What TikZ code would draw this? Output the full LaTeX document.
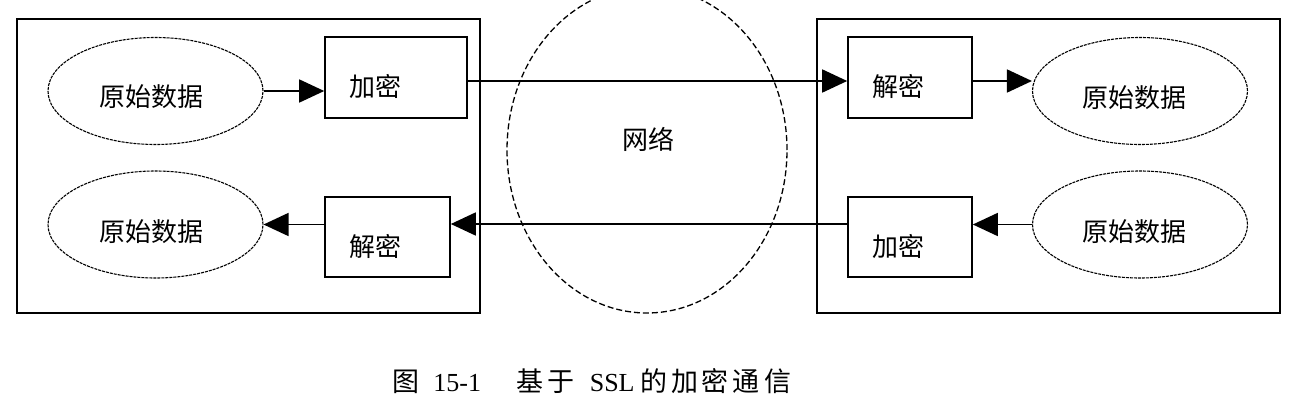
\documentclass[tikz,border=0pt]{standalone}
\usepackage{fontspec}
\setmainfont{Noto Sans CJK SC}
\newfontfamily\caplatin{Liberation Serif}
\usetikzlibrary{arrows.meta,calc,shapes.geometric}
\begin{document}
\begin{tikzpicture}[x=1pt,y=-1pt,
  outerbox/.style={draw, line width=1.8pt},
  procbox/.style={draw, line width=1.6pt, rectangle, inner sep=0pt},
  dataell/.style={draw, ellipse, line width=1.1pt, dash pattern=on 3pt off 1pt, inner sep=0pt, minimum width=215pt, minimum height=107pt},
  netell/.style={draw, ellipse, line width=1.3pt, dash pattern=on 6pt off 3pt, inner sep=0pt, minimum width=280pt, minimum height=326pt},
  lbl/.style={inner sep=0pt, font=\fontsize{26pt}{30pt}\selectfont},
  arr/.style={line width=1.6pt, -{Triangle[length=25pt,width=23pt]}}
]
\fill[white] (0,0) rectangle (1301,404);
\useasboundingbox (0,0) rectangle (1301,404);

% outer boxes
\draw[outerbox] (17,19) rectangle (480,313);
\draw[outerbox] (817,19) rectangle (1280,313);

% network
\node[netell] (net) at (647,150) {};
\node[lbl] (nett) at (648,139) {网络};

% left side
\node[dataell] (lt) at (155.5,91) {};
\node[lbl] (ltt) at (151,97) {原始数据};
\node[dataell] (lb) at (155.5,224.5) {};
\node[lbl] (lbt) at (151,232) {原始数据};
\node[procbox, minimum width=142pt, minimum height=81pt] (lenc) at (396,77.5) {};
\node[lbl] (lenct) at (375,87) {加密};
\node[procbox, minimum width=125pt, minimum height=80pt] (ldec) at (387.5,237) {};
\node[lbl] (ldect) at (375,247) {解密};

% right side
\node[procbox, minimum width=124pt, minimum height=81pt] (rdec) at (910,77.5) {};
\node[lbl] (rdect) at (898,87) {解密};
\node[procbox, minimum width=124pt, minimum height=80pt] (renc) at (910,237) {};
\node[lbl] (renct) at (898,247) {加密};
\node[dataell] (rt) at (1140,91) {};
\node[lbl] (rtt) at (1134,98) {原始数据};
\node[dataell] (rb) at (1140,224.5) {};
\node[lbl] (rbt) at (1134,232) {原始数据};

% connectors
\coordinate (a1) at ([yshift=-3.5pt]lenc.east);
\coordinate (a2) at ([yshift=-3.5pt]rdec.east);
\coordinate (b1) at ([yshift=13pt]renc.west);
\draw[arr] (lt.east) -- (lt.east -| lenc.west);
\draw[arr] (a1) -- (a1 -| rdec.west);
\draw[arr] (a2) -- (a2 -| rt.west);
\draw[arr] (rb.west) -- (rb.west -| renc.east);
\draw[arr] (b1) -- (b1 -| ldec.east);
\draw[arr] (lb.east -| ldec.west) -- (lb.east);

% caption
\node[anchor=base west, inner sep=0pt, font=\fontsize{27pt}{30pt}\selectfont] (cap) at (406,391)
 {\makebox[0pt]{图}\hspace{51pt}\makebox[0pt]{\caplatin\fontsize{26pt}{30pt}\selectfont 15-1}\hspace{73pt}\makebox[0pt]{基}\hspace{31pt}\makebox[0pt]{于}\hspace{51pt}\makebox[0pt]{\caplatin\fontsize{26pt}{30pt}\selectfont SSL}\hspace{42pt}\makebox[0pt]{的}\hspace{31pt}\makebox[0pt]{加}\hspace{30pt}\makebox[0pt]{密}\hspace{31pt}\makebox[0pt]{通}\hspace{32pt}\makebox[0pt]{信}};
\end{tikzpicture}
\end{document}
